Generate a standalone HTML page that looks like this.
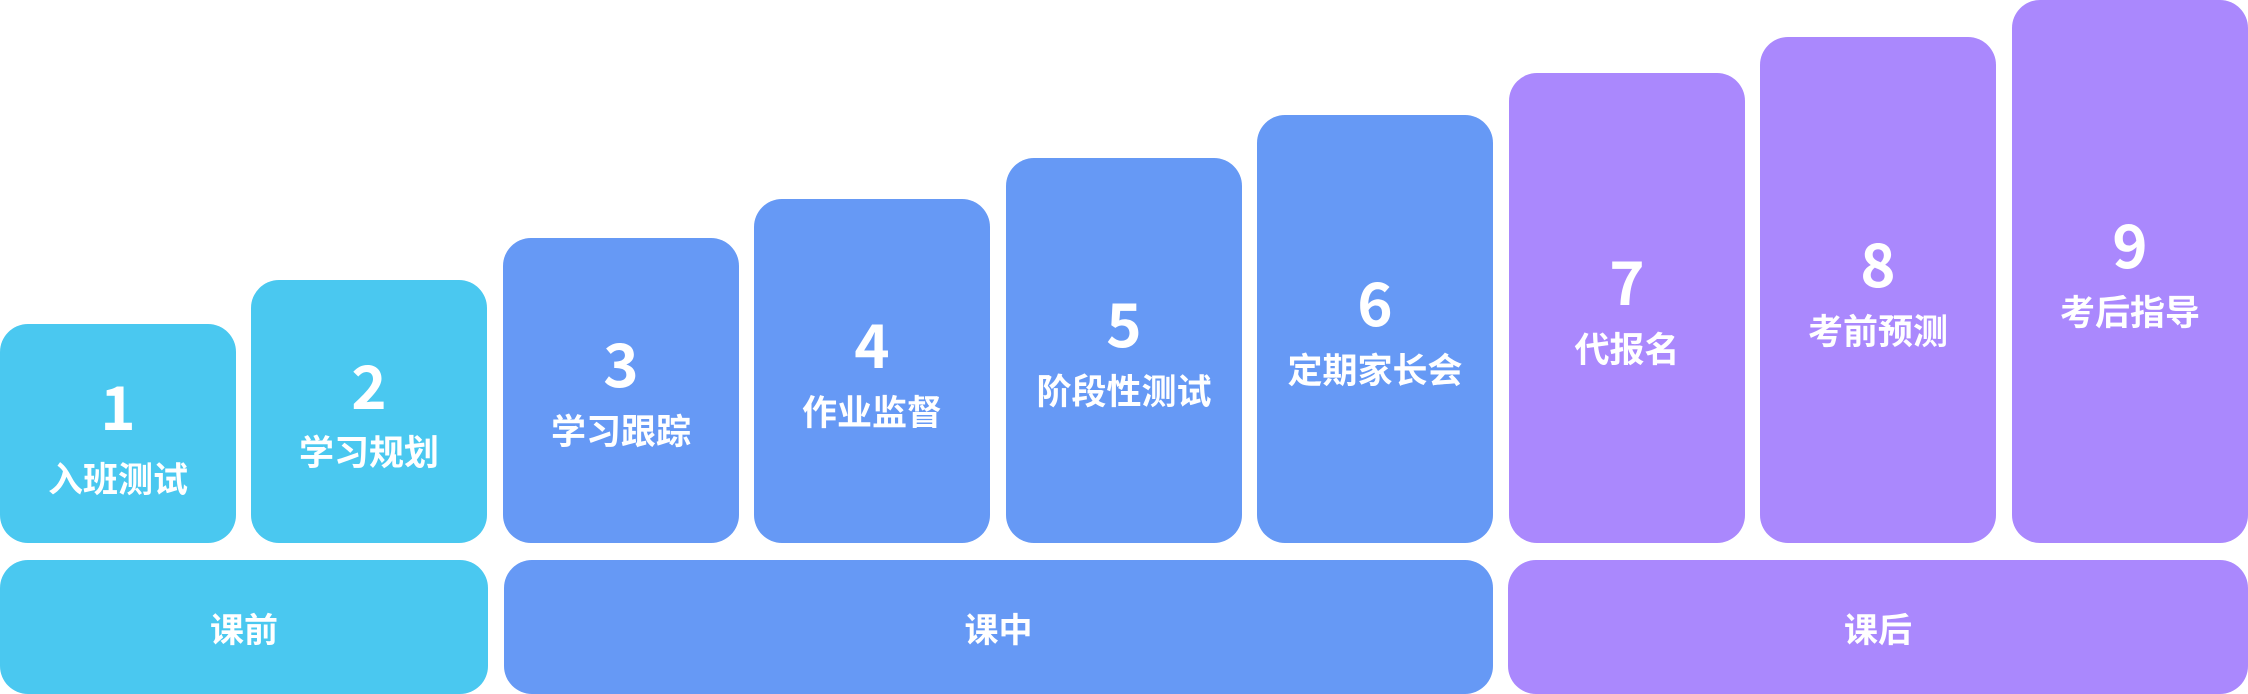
<!DOCTYPE html>
<html><head><meta charset="utf-8"><style>
html,body{margin:0;padding:0;background:#fff;}
body{width:2248px;height:694px;position:relative;overflow:hidden;font-family:"Liberation Sans","Noto Sans CJK SC",sans-serif;color:#fff;font-weight:bold;}
.b{position:absolute;width:236px;border-radius:28px;}
.c{background:#4AC8F0}.u{background:#6699F5}.p{background:#AA88FD}
.n{position:absolute;left:0;right:0;text-align:center;font-size:60px;line-height:60px;font-family:"Noto Sans CJK SC","Liberation Sans",sans-serif;}
.l{position:absolute;left:0;right:0;text-align:center;font-size:35px;line-height:40px;font-family:"Noto Sans CJK SC",sans-serif;}
.bar{position:absolute;top:560px;height:134px;border-radius:28px;display:flex;align-items:center;justify-content:center;font-size:34px;font-family:"Noto Sans CJK SC",sans-serif;}
</style></head><body>
<div class="b c" style="left:0;top:324px;height:219px"><div class="n" style="top:51px">1</div><div class="l" style="top:134px">入班测试</div></div>
<div class="b c" style="left:251px;top:280px;height:263px"><div class="n" style="top:74px">2</div><div class="l" style="top:151px">学习规划</div></div>
<div class="b u" style="left:503px;top:238px;height:305px"><div class="n" style="top:94px">3</div><div class="l" style="top:172px">学习跟踪</div></div>
<div class="b u" style="left:754px;top:199px;height:344px"><div class="n" style="top:114px">4</div><div class="l" style="top:192px">作业监督</div></div>
<div class="b u" style="left:1006px;top:158px;height:385px"><div class="n" style="top:134px">5</div><div class="l" style="top:212px">阶段性测试</div></div>
<div class="b u" style="left:1257px;top:115px;height:428px"><div class="n" style="top:156px">6</div><div class="l" style="top:234px">定期家长会</div></div>
<div class="b p" style="left:1509px;top:73px;height:470px"><div class="n" style="top:177px">7</div><div class="l" style="top:255px">代报名</div></div>
<div class="b p" style="left:1760px;top:37px;height:506px"><div class="n" style="top:195px">8</div><div class="l" style="top:273px">考前预测</div></div>
<div class="b p" style="left:2012px;top:0;height:543px;width:236px"><div class="n" style="top:213px">9</div><div class="l" style="top:291px">考后指导</div></div>
<div class="bar c" style="left:0;width:488px">课前</div>
<div class="bar u" style="left:504px;width:989px">课中</div>
<div class="bar p" style="left:1508px;width:740px">课后</div>
</body></html>
